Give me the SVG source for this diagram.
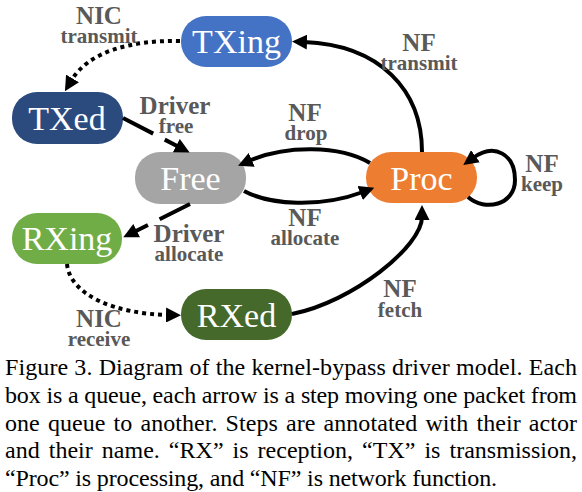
<svg xmlns="http://www.w3.org/2000/svg" width="582" height="492" viewBox="0 0 582 492">
<style>
.node text{font-family:"Liberation Serif","Times New Roman",serif;font-size:34px;fill:#fff;text-anchor:middle}
.lbl{font-family:"Liberation Serif","Times New Roman",serif;font-weight:bold;fill:#595959;text-anchor:middle}
.l1{font-size:25px}
.l2{font-size:21px}
.conn path{fill:none;stroke:#000;stroke-width:4;marker-end:url(#ah)}
.dot{stroke-dasharray:4 4}
.dash{stroke-dasharray:34 13}
.cap{font-family:"Liberation Serif","Times New Roman",serif;font-size:24px;fill:#000}
</style>
<defs>
<marker id="ah" markerUnits="userSpaceOnUse" markerWidth="16" markerHeight="15" viewBox="0 0 16 15" refX="3" refY="7.5" orient="auto">
<path d="M0,0 L15,7.5 L0,15 z" fill="#000"/>
</marker>
</defs>
<rect width="582" height="492" fill="#fff"/>
<g id="TXing" class="node"><rect x="181" y="16" width="111" height="51" rx="25" fill="#4472C4"/><text x="236.5" y="53">TXing</text></g>
<g id="TXed" class="node"><rect x="12" y="92" width="111" height="52" rx="25" fill="#2B4B7F"/><text x="67" y="130">TXed</text></g>
<g id="Free" class="node"><rect x="135" y="152" width="111" height="52" rx="25" fill="#A5A5A5"/><text x="190.5" y="190">Free</text></g>
<g id="Proc" class="node"><rect x="366" y="152" width="111" height="51" rx="25" fill="#ED7D31"/><text x="421.5" y="190">Proc</text></g>
<g id="RXing" class="node"><rect x="12" y="213" width="110" height="51" rx="25" fill="#70AD47"/><text x="67" y="250">RXing</text></g>
<g id="RXed" class="node"><rect x="181" y="289" width="111" height="51" rx="25" fill="#44692B"/><text x="236.5" y="327">RXed</text></g>
<g id="connectors" class="conn">
<path class="dot" d="M180,41 C 130,40 88,52 71,81"/>
<path class="dash" d="M123,118 L179,147"/>
<path d="M422,152 C 422,90 380,45 304,42"/>
<path d="M370,163 C 340,145 285,145 249,161"/>
<path d="M244,191 C 270,205 320,208 363,192"/>
<path d="M468,197 C 485,212 515,205 515,180 C 515,155 495,142 473,158"/>
<path class="dash" d="M190,204 L134,232"/>
<path class="dot" d="M67,264 C 70,295 115,314 169,315"/>
<path d="M292,314 C 353,302 422,246 422,217"/>
</g>
<g id="labels">
<text class="lbl"><tspan class="l1" x="99" y="24">NIC</tspan><tspan class="l2" x="99" y="43">transmit</tspan></text>
<text class="lbl"><tspan class="l1" x="175" y="114">Driver</tspan><tspan class="l2" x="176" y="133">free</tspan></text>
<text class="lbl"><tspan class="l1" x="419" y="51">NF</tspan><tspan class="l2" x="419" y="70">transmit</tspan></text>
<text class="lbl"><tspan class="l1" x="305" y="121">NF</tspan><tspan class="l2" x="306" y="140">drop</tspan></text>
<text class="lbl"><tspan class="l1" x="542" y="172">NF</tspan><tspan class="l2" x="542" y="191">keep</tspan></text>
<text class="lbl"><tspan class="l1" x="305" y="226">NF</tspan><tspan class="l2" x="305" y="245">allocate</tspan></text>
<text class="lbl"><tspan class="l1" x="189" y="242">Driver</tspan><tspan class="l2" x="189" y="261">allocate</tspan></text>
<text class="lbl"><tspan class="l1" x="400" y="297">NF</tspan><tspan class="l2" x="400" y="317">fetch</tspan></text>
<text class="lbl"><tspan class="l1" x="99" y="327">NIC</tspan><tspan class="l2" x="99" y="346">receive</tspan></text>
</g>
<g id="caption">
<text class="cap" x="5" y="375" textLength="572" lengthAdjust="spacing">Figure 3. Diagram of the kernel-bypass driver model. Each</text>
<text class="cap" x="5" y="403" textLength="572" lengthAdjust="spacing">box is a queue, each arrow is a step moving one packet from</text>
<text class="cap" x="5" y="430.5" textLength="572" lengthAdjust="spacing" word-spacing="2">one queue to another. Steps are annotated with their actor</text>
<text class="cap" x="5" y="458" textLength="572" lengthAdjust="spacing" word-spacing="3">and their name. “RX” is reception, “TX” is transmission,</text>
<text class="cap" x="5" y="486" textLength="492" lengthAdjust="spacing">“Proc” is processing, and “NF” is network function.</text>
</g>
</svg>
